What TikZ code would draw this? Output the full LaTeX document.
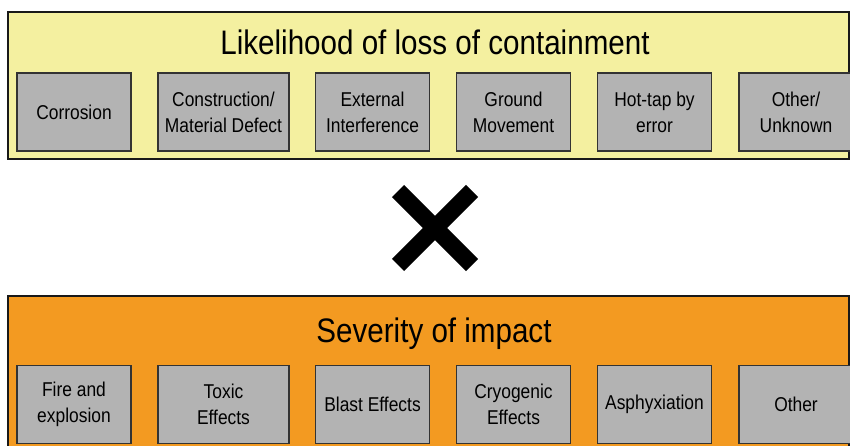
\documentclass[tikz,border=0pt]{standalone}
\usepackage{fontspec}
\setmainfont[FakeStretch=0.87]{Liberation Sans}
\usepackage{xcolor}

\definecolor{likelyYellow}{HTML}{F4F0A0}
\definecolor{impactOrange}{HTML}{F39A21}
\definecolor{causeGray}{HTML}{B3B3B3}

\tikzset{
  panel/.style={draw=black!90, line width=2pt, inner sep=0pt},
  cause/.style={draw=black!80, line width=1.5pt, fill=causeGray, minimum height=78pt,
    inner sep=0pt, align=center, font=\fontsize{20}{26}\selectfont},
  headline/.style={font=\fontsize{34}{40}\selectfont, inner sep=0pt},
  cross/.style={line width=17pt, line cap=butt}
}

\begin{document}
\begin{tikzpicture}[x=1pt, y=-1pt]
  \useasboundingbox (0,0) rectangle (850,446);
  % likelihood panel
  \node[panel, fill=likelyYellow, minimum width=841pt, minimum height=147pt] (lpanel) at (428.5,85.5) {};
  \node[headline] (ltitle) at (435,42) {Likelihood of loss of containment};
  \foreach \x/\w/\t [count=\i] in {74/114/Corrosion, 223.5/131/{Construction/\\Material Defect},
      372.5/114/{External\\Interference}, 513.5/114/{Ground\\Movement},
      654.5/114/{Hot-tap by\\error}, 796/114/{Other/\\Unknown}} {
    \node[cause, minimum width=\w pt] (l\i) at (\x,112) {\t};
  }
  % times
  \draw[cross] (398,191) -- (472,265) (398,265) -- (472,191);
  % severity panel
  \node[panel, fill=impactOrange, minimum width=841pt, minimum height=184pt] (spanel) at (428.5,388) {};
  \node[headline] (stitle) at (434,334) {Severity of impact};
  \foreach \x/\w/\t [count=\i] in {74/114/{Fire and\\explosion}, 223.5/131/{Toxic\\Effects},
      372.5/114/{Blast Effects}, 513.5/114/{Cryogenic\\Effects},
      654.5/114/Asphyxiation, 796/114/Other} {
    \node[cause, minimum width=\w pt] (s\i) at (\x,404.5) {\t};
  }
\end{tikzpicture}
\end{document}
